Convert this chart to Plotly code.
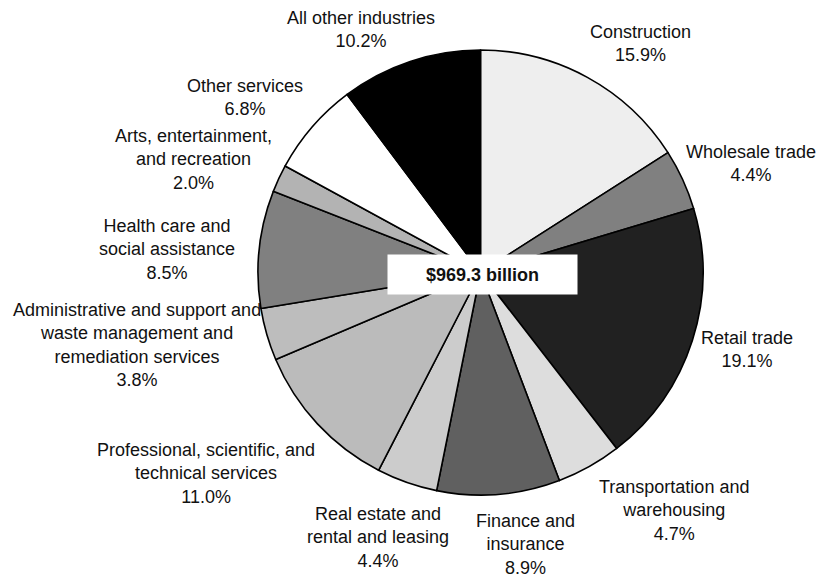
import math
import plotly.graph_objects as go

# ---- data ----
industries = [
    "Construction", "Wholesale trade", "Retail trade",
    "Transportation and<br>warehousing", "Finance and<br>insurance",
    "Real estate and<br>rental and leasing",
    "Professional, scientific, and<br>technical services",
    "Administrative and support and<br>waste management and<br>remediation services",
    "Health care and<br>social assistance",
    "Arts, entertainment,<br>and recreation",
    "Other services", "All other industries",
]
shares = [15.9, 4.4, 19.1, 4.7, 8.9, 4.4, 11.0, 3.8, 8.5, 2.0, 6.8, 10.2]
total_label = "$969.3 billion"

# ---- styles ----
colors = ["#eeeeee", "#808080", "#212121", "#dddddd", "#606060", "#cccccc",
          "#bbbbbb", "#bdbdbd", "#808080", "#b3b3b3", "#ffffff", "#000000"]
# small per-label pixel nudges (layout only)
label_nudge = [(21, 0), (-5, 0), (-4, -3), (40, 0), (21, 0), (0, 7),
               (-20, 15), (4, -7), (-9, 6), (0, 2), (-12, -4), (-21, 5)]

W, H = 818, 578
CX, CY, R = 480.5, 272.5, 222.5
FS = 18
FONT = "Liberation Sans, Arial, sans-serif"

CW = {' ': 278, ',': 278, '.': 278, '%': 889, '$': 556,
      'A': 667, 'C': 722, 'F': 611, 'H': 722, 'O': 778, 'P': 667, 'R': 722,
      'T': 611, 'W': 944,
      'a': 556, 'b': 556, 'c': 500, 'd': 556, 'e': 556, 'f': 278, 'g': 556,
      'h': 556, 'i': 222, 'k': 500, 'l': 222, 'm': 833, 'n': 556, 'o': 556,
      'p': 556, 'r': 333, 's': 500, 't': 278, 'u': 556, 'v': 500, 'w': 722,
      'x': 500, 'y': 500}


def text_w(s):
    return sum(CW.get(ch, 556) for ch in s) * FS / 1000.0


fig = go.Figure(go.Pie(
    labels=industries, values=shares, sort=False, direction="clockwise",
    rotation=0, textinfo="none", hoverinfo="skip",
    marker=dict(colors=colors, line=dict(color="#000000", width=1.6)),
    domain=dict(x=[(CX - R) / W, (CX + R) / W],
                y=[1 - (CY + R) / H, 1 - (CY - R) / H]),
    showlegend=False,
))

annotations = []
tot = sum(shares)
cum = 0.0
RL = R + 15.5
for name, v, (nx, ny) in zip(industries, shares, label_nudge):
    mid = (cum + v / 2) / tot * 2 * math.pi
    cum += v
    ux, uy = math.sin(mid), -math.cos(mid)
    text = f"{name}<br>{v:.1f}%"
    lines = text.split("<br>")
    bw = max(text_w(l) for l in lines)
    bh = len(lines) * FS * 1.3
    px = CX + RL * ux + ux * bw / 2 + nx
    py = CY + RL * uy + uy * bh / 2 + ny
    annotations.append(dict(
        x=px / W, y=1 - py / H, xref="paper", yref="paper",
        xanchor="center", yanchor="middle", showarrow=False, align="center",
        text=text, font=dict(family=FONT, size=FS, color="#111111")))

annotations.append(dict(
    x=(CX + 2) / W, y=1 - (CY + 2) / H, xref="paper", yref="paper",
    xanchor="center", yanchor="middle", showarrow=False,
    text="<b>" + total_label + "</b>", bgcolor="#ffffff",
    width=189, height=39, borderpad=0,
    font=dict(family=FONT, size=FS, color="#111111")))

fig.update_layout(
    width=W, height=H, margin=dict(l=0, r=0, t=0, b=0),
    paper_bgcolor="#ffffff", plot_bgcolor="#ffffff",
    annotations=annotations,
)
fig.write_html("out.html",
               config={"displayModeBar": False},
               post_script="document.body.style.margin='0';"
                           "document.body.style.overflow='hidden';")
